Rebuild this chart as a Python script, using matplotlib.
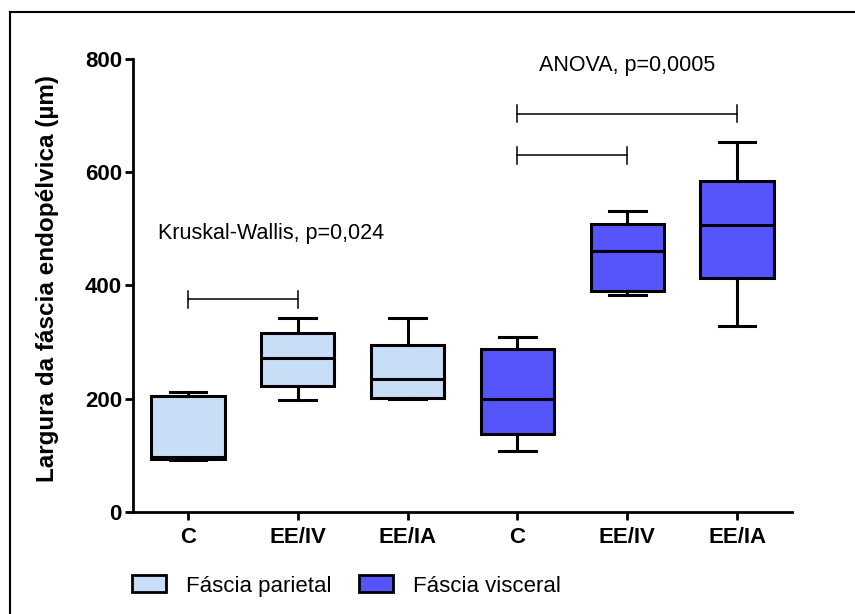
import matplotlib
matplotlib.use("Agg")
import matplotlib.pyplot as plt
from matplotlib.patches import Patch
from matplotlib.lines import Line2D

plt.rcParams['font.family'] = ['Liberation Sans', 'DejaVu Sans']

# group labels and box statistics (min, q1, median, q3, max)
labels = ['C', 'EE/IV', 'EE/IA', 'C', 'EE/IV', 'EE/IA']
groups = ['Fáscia parietal'] * 3 + ['Fáscia visceral'] * 3
mins = [91, 197, 199, 108, 383, 329]
q1s = [94, 222, 201, 137, 390, 413]
medians = [97, 272, 235, 199, 461, 506]
q3s = [204, 315, 295, 288, 509, 585]
maxs = [212, 342, 343, 309, 531, 653]

colors = {'Fáscia parietal': '#c8ddf6', 'Fáscia visceral': '#5555fb'}

# significance brackets: (from, to, height)
brackets = [(0, 1, 375), (3, 4, 630), (3, 5, 703)]

W, H = 855, 614
fig = plt.figure(figsize=(8.55, 6.14), dpi=100)
ax = fig.add_axes([133 / W, 1 - 511.7 / H, (792 - 133) / W, (511.7 - 59) / H])

stats = []
for i in range(len(labels)):
    stats.append(dict(whislo=mins[i], q1=q1s[i], med=medians[i],
                      q3=q3s[i], whishi=maxs[i], fliers=[]))

lw = 2.2
bp = ax.bxp(stats, positions=range(len(labels)), widths=0.667,
            capwidths=0.333, patch_artist=True, showfliers=False,
            boxprops=dict(linewidth=lw),
            medianprops=dict(color='black', linewidth=lw),
            whiskerprops=dict(linewidth=lw),
            capprops=dict(linewidth=lw))
for box, g in zip(bp['boxes'], groups):
    box.set_facecolor(colors[g])
    box.set_edgecolor('black')

# brackets
for a, b, h in brackets:
    ax.plot([a, b], [h, h], color='black', lw=1.1)
    for x in (a, b):
        ax.plot([x, x], [h - 15, h + 15], color='black', lw=1.1)

ax.text(-0.27, 492, 'Kruskal-Wallis, p=0,024', fontsize=15.5, va='center')
ax.text(4, 788, 'ANOVA, p=0,0005', fontsize=15.5, va='center', ha='center')

ax.set_xlim(-0.5, 5.5)
ax.set_ylim(0, 800)
ax.set_yticks([0, 200, 400, 600, 800])
ax.set_xticks(range(len(labels)))
ax.set_xticklabels(labels)
for t in ax.get_xticklabels() + ax.get_yticklabels():
    t.set_fontweight('bold')
    t.set_fontsize(16)
ax.tick_params(width=2.0, length=6)
ax.tick_params(axis='x', pad=5)
ax.tick_params(axis='y', pad=2)
ax.spines['top'].set_visible(False)
ax.spines['right'].set_visible(False)
ax.spines['left'].set_linewidth(2.0)
ax.spines['bottom'].set_linewidth(2.0)

fig.text(48 / W, 1 - 279 / H, 'Largura da fáscia endopélvica (µm)', fontsize=17.5,
         fontweight='bold', rotation=90, ha='center', va='center')

handles = [Patch(facecolor=colors[g], edgecolor='black', linewidth=2, label=g)
           for g in ['Fáscia parietal', 'Fáscia visceral']]
fig.legend(handles=handles, loc='center left', bbox_to_anchor=(132 / W, 1 - 586 / H),
           ncol=2, frameon=False, fontsize=16, borderpad=0, borderaxespad=0,
           handlelength=1.55, handleheight=0.8, columnspacing=1.2,
           handletextpad=0.9)

# outer frame (only left and top edges fall inside the picture)
fig.add_artist(Line2D([9.5 / W, 9.5 / W], [0, 1 - 12 / H], transform=fig.transFigure,
                      color='black', lw=1.5))
fig.add_artist(Line2D([9.5 / W, 1], [1 - 12 / H, 1 - 12 / H], transform=fig.transFigure,
                      color='black', lw=1.5))

fig.savefig('out.png', dpi=100)
